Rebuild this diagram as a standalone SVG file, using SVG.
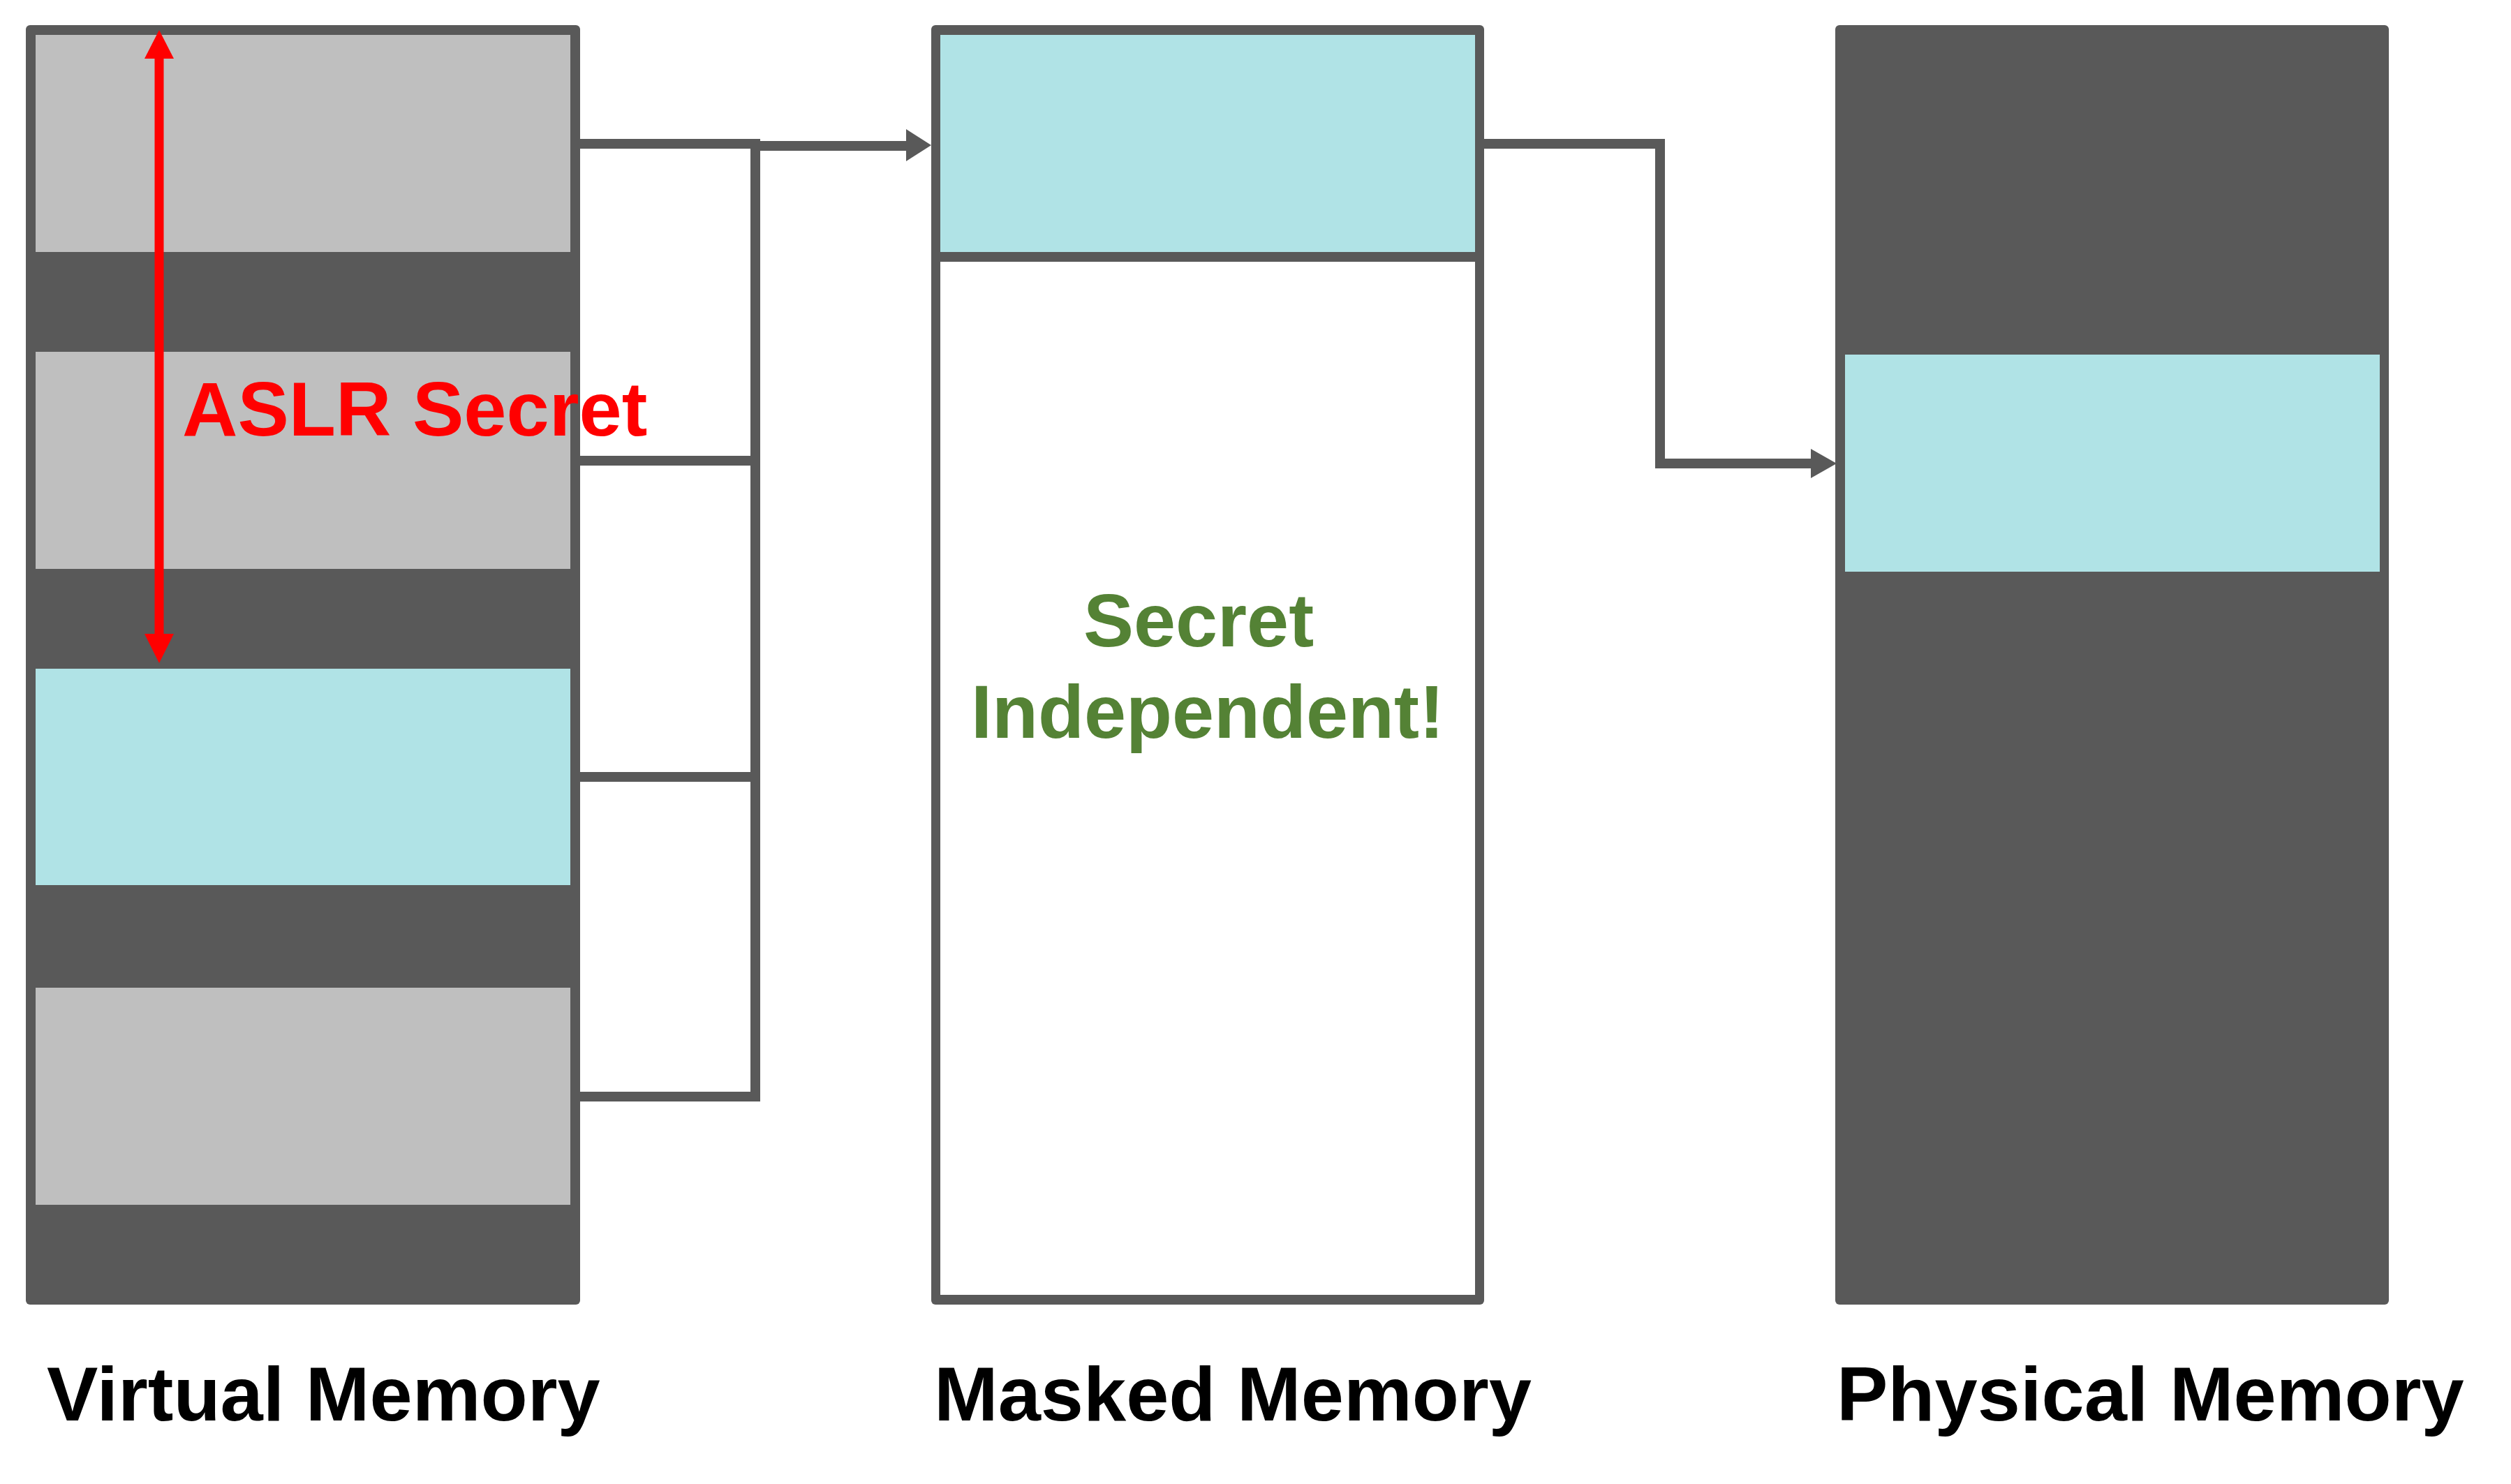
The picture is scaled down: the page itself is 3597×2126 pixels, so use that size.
<svg xmlns="http://www.w3.org/2000/svg" width="3597" height="2126" viewBox="0 0 3597 2126">
  <style>
    .frame { fill: #595959; }
    .gray { fill: #BFBFBF; }
    .cyan { fill: #B0E3E6; }
    .white { fill: #FFFFFF; }
    .label { font-family: "Liberation Sans", Arial, sans-serif; font-weight: bold; font-size: 110px; fill: #000000; }
    .green { font-family: "Liberation Sans", Arial, sans-serif; font-weight: bold; font-size: 108px; fill: #548235; text-anchor: middle; }
    .red { font-family: "Liberation Sans", Arial, sans-serif; font-weight: bold; font-size: 110px; fill: #FF0000; }
    .conn { fill: none; stroke: #595959; stroke-width: 14; stroke-linecap: butt; stroke-linejoin: miter; }
    .head { fill: #595959; }
  </style>
  <rect width="3597" height="2126" fill="#FFFFFF"/>

  <g id="virtual-memory">
    <rect class="frame" x="37" y="36" width="794" height="1833" rx="6"/>
    <rect class="gray" x="51" y="50" width="766" height="311"/>
    <rect class="gray" x="51" y="504" width="766" height="311"/>
    <rect class="cyan" x="51" y="958" width="766" height="310"/>
    <rect class="gray" x="51" y="1415" width="766" height="311"/>
    <text class="label" x="67" y="2035">Virtual Memory</text>
  </g>

  <g id="masked-memory">
    <rect class="frame" x="1334" y="36" width="792" height="1833" rx="6"/>
    <rect class="cyan" x="1347" y="50" width="766" height="311"/>
    <rect class="white" x="1347" y="375" width="766" height="1480"/>
    <text class="green" x="1717" y="926">Secret</text>
    <text class="green" x="1730" y="1057">Independent!</text>
    <text class="label" x="1338" y="2035">Masked Memory</text>
  </g>

  <g id="physical-memory">
    <rect class="frame" x="2629" y="36" width="793" height="1833" rx="6"/>
    <rect class="cyan" x="2643" y="508" width="766" height="311"/>
    <text class="label" x="2631" y="2035">Physical Memory</text>
  </g>

  <g id="aslr-secret">
    <line x1="228" y1="80" x2="228" y2="912" stroke="#FF0000" stroke-width="13"/>
    <polygon points="228,43 249,84 207,84" fill="#FF0000"/>
    <polygon points="228,950 249,908 207,908" fill="#FF0000"/>
    <text class="red" x="261" y="624">ASLR Secret</text>
  </g>

  <g id="connectors">
    <polyline class="conn" points="831,206 1082,206"/>
    <polyline class="conn" points="831,660 1082,660"/>
    <polyline class="conn" points="831,1113 1082,1113"/>
    <polyline class="conn" points="831,1571 1089,1571"/>
    <line class="conn" x1="1082" y1="199" x2="1082" y2="1578"/>
    <line class="conn" x1="1075" y1="209" x2="1300" y2="209" stroke-width="19"/>
    <polygon class="head" points="1298,185 1334,208 1298,231"/>
    <polyline class="conn" points="2126,206 2378,206 2378,664 2596,664"/>
    <polygon class="head" points="2594,643 2631,664 2594,685"/>
  </g>
</svg>
